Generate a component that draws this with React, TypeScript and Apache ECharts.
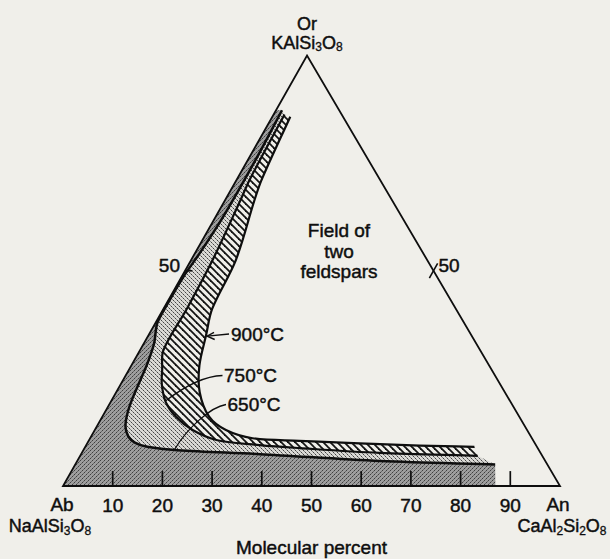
import React, { useEffect, useRef } from 'react';
import * as echarts from 'echarts';

// ---------------- data ----------------
// Corners of the ternary system: Ab (bottom-left), An (bottom-right), Or (apex)
const cornerNames = ['Ab', 'An', 'Or'];
// Formula tokens: [text, isSubscript]
const formulaAb: [string, boolean][] = [['NaAlSi', false], ['3', true], ['O', false], ['8', true]];
const formulaAn: [string, boolean][] = [['CaAl', false], ['2', true], ['Si', false], ['2', true], ['O', false], ['8', true]];
const formulaOr: [string, boolean][] = [['KAlSi', false], ['3', true], ['O', false], ['8', true]];

// Scale marks (mol %)
const baseTicks = [10, 20, 30, 40, 50, 60, 70, 80, 90];
const sideTick = 50;

// Solvus curves, points as [An, Or] in mol % (Ab = 100 - An - Or)
const solvus650: number[][] = [
  [1.2, 87.3], [1.5, 78.5], [1.6, 71.4], [1.5, 62.0], [1.0, 54.5], [0.35, 48.5],
  [0.25, 42.0], [0.35, 38.0], [1.0, 36.0], [2.1, 33.0], [3.0, 28.5], [3.5, 24.5],
  [4.0, 20.3], [4.7, 16.8], [5.8, 13.8], [7.5, 11.5], [9.5, 10.1], [12.5, 9.1],
  [19.0, 8.3], [36.0, 7.4], [61.0, 5.8], [84.5, 5.0],
];
const solvus750: number[][] = [
  [2.2, 86.3], [2.6, 71.4], [3.1, 66.5], [4.3, 52.8], [4.7, 41.2], [4.7, 31.6],
  [6.7, 27.0], [8.3, 23.6], [11.1, 19.5], [14.8, 16.1], [19.7, 13.0], [25.6, 10.7],
  [34.9, 9.5], [43.3, 8.8], [59.9, 7.7], [80.0, 7.0],
];
const solvus900: number[][] = [
  [3.6, 85.8], [5.0, 71.4], [5.9, 66.5], [9.0, 52.5], [9.8, 41.2], [11.6, 35.0],
  [13.7, 28.0], [16.8, 21.8], [21.5, 16.1], [26.4, 13.0], [32.7, 11.1], [42.4, 10.5],
  [54.8, 9.9], [67.1, 9.4], [78.3, 9.1],
];
// An content where the low-temperature one-feldspar field meets the Ab–An join
const oneFeldsparBaseEnd = [87, 0];

const isothermLabels = ['900°C', '750°C', '650°C'];
const fieldLabel = ['Field of', 'two', 'feldspars'];
const axisTitle = 'Molecular percent';

// ---------------- styling / helpers ----------------
const FONT = "'Liberation Sans', Arial, Helvetica, sans-serif";
const INK = '#0e0e0e';
const PAPER = '#f0efea';
const BOLDEN = 0.45; // thin outline so the type matches the heavier print
const SQ = Math.sqrt(3) / 2;
const SHEAR = 0.491; // the printed triangle leans slightly (apex a little left of centre)
const TICK_LEN = 3;
const toXY = (p: number[]) => [p[0] + p[1] * SHEAR, p[1] * SQ];
const rev = (a: number[][]) => [...a].reverse();

type Seg = { pts: number[][]; smooth: boolean };

const norm = (x: number, y: number) => {
  const l = Math.hypot(x, y) || 1;
  return [x / l, y / l];
};

function buildPath(segs: Seg[], close: boolean): string {
  const f = (n: number) => n.toFixed(2);
  let d = '';
  segs.forEach((seg, si) => {
    const p = seg.pts;
    d += (si === 0 ? 'M' : 'L') + f(p[0][0]) + ' ' + f(p[0][1]) + ' ';
    for (let i = 0; i < p.length - 1; i++) {
      const p1 = p[i];
      const p2 = p[i + 1];
      if (!seg.smooth) {
        d += 'L' + f(p2[0]) + ' ' + f(p2[1]) + ' ';
        continue;
      }
      const p0 = i > 0 ? p[i - 1] : p1;
      const p3 = i < p.length - 2 ? p[i + 2] : p2;
      const len = Math.hypot(p2[0] - p1[0], p2[1] - p1[1]);
      const t1 = norm(p2[0] - p0[0], p2[1] - p0[1]);
      const t2 = norm(p3[0] - p1[0], p3[1] - p1[1]);
      const c1 = [p1[0] + (t1[0] * len) / 3, p1[1] + (t1[1] * len) / 3];
      const c2 = [p2[0] - (t2[0] * len) / 3, p2[1] - (t2[1] * len) / 3];
      d += 'C' + f(c1[0]) + ' ' + f(c1[1]) + ' ' + f(c2[0]) + ' ' + f(c2[1]) + ' ' + f(p2[0]) + ' ' + f(p2[1]) + ' ';
    }
  });
  if (close) d += 'Z';
  return d;
}

const shapeSeries = (name: string, segs: Seg[], close: boolean, style: any, z: number) => ({
  type: 'custom',
  name,
  silent: true,
  clip: false,
  z,
  data: segs.flatMap((s) => s.pts.map(toXY)),
  renderItem: (params: any, api: any) => {
    if (params.dataIndex !== 0) return null;
    const px = segs.map((s) => ({ smooth: s.smooth, pts: s.pts.map((p) => api.coord(toXY(p))) }));
    return { type: 'path', shape: { pathData: buildPath(px, close) }, style };
  },
});

function makePattern(size: number, draw: (ctx: CanvasRenderingContext2D) => void) {
  const c = document.createElement('canvas');
  c.width = size;
  c.height = size;
  const ctx = c.getContext('2d') as CanvasRenderingContext2D;
  draw(ctx);
  return { image: c.toDataURL(), repeat: 'repeat', imageWidth: size, imageHeight: size };
}

const formula = (tokens: [string, boolean][]) =>
  tokens.map(([t, sub]) => (sub ? `{s|${t}}` : `{n|${t}}`)).join('');

export default function App() {
  const ref = useRef<HTMLDivElement>(null);

  useEffect(() => {
    const el = ref.current;
    if (!el) return;
    const chart = echarts.init(el, undefined, { renderer: 'svg' });

    const darkFill = makePattern(4, (ctx) => {
      ctx.fillStyle = '#9e9e9e';
      ctx.fillRect(0, 0, 4, 4);
      ctx.fillStyle = '#404040';
      ctx.fillRect(0, 0, 1, 1);
      ctx.fillRect(2, 2, 1, 1);
      ctx.fillStyle = '#6a6a6a';
      ctx.fillRect(3, 1, 1, 1);
      ctx.fillRect(1, 3, 1, 1);
    });
    const lightFill = makePattern(4, (ctx) => {
      ctx.fillStyle = '#dad9d5';
      ctx.fillRect(0, 0, 4, 4);
      ctx.fillStyle = '#454545';
      ctx.fillRect(1, 0, 1, 1);
      ctx.fillRect(3, 2, 1, 1);
      ctx.fillStyle = '#858585';
      ctx.fillRect(0, 3, 1, 1);
      ctx.fillRect(2, 1, 1, 1);
    });
    const hatchFill = makePattern(7, (ctx) => {
      ctx.fillStyle = PAPER;
      ctx.fillRect(0, 0, 7, 7);
      ctx.strokeStyle = '#141414';
      ctx.lineWidth = 1.8;
      for (let k = -1; k <= 1; k++) {
        ctx.beginPath();
        ctx.moveTo(-2, -2 + 7 * k);
        ctx.lineTo(9, 9 + 7 * k);
        ctx.stroke();
      }
    });

    const abCorner = [0, 0];
    const darkSegs: Seg[] = [
      { pts: [abCorner, [0, solvus650[0][1]]], smooth: false },
      { pts: solvus650, smooth: true },
      { pts: [oneFeldsparBaseEnd, abCorner], smooth: false },
    ];
    const lightSegs: Seg[] = [
      { pts: solvus650, smooth: true },
      { pts: rev(solvus750), smooth: true },
    ];
    const hatchSegs: Seg[] = [
      { pts: solvus750, smooth: true },
      { pts: rev(solvus900), smooth: true },
    ];
    const frameSegs: Seg[] = [{ pts: [[0, 0], [100, 0], [0, 100]], smooth: false }];

    const ink = { color: INK, fontFamily: FONT, textBorderColor: INK, textBorderWidth: BOLDEN };
    const richFormula = (lh: number, subLh: number) => ({
      n: { ...ink, fontSize: 18, lineHeight: lh, align: 'center' },
      s: { ...ink, fontSize: 12, lineHeight: subLh, verticalAlign: 'bottom', align: 'center', textBorderWidth: 0.3 },
    });

    const baseLabel = (value: number) => (baseTicks.indexOf(value) >= 0 ? String(value) : '');

    const lineStyle = (w: number) => ({ fill: 'none', stroke: INK, lineWidth: w, lineJoin: 'round', lineCap: 'butt' });
    const labelText = { ...ink, fontSize: 19, opacity: 1 };
    const graphicText = (text: string, x: number, y: number, align: string, extra: any = {}) => ({
      type: 'text',
      z: 10,
      x,
      y,
      style: {
        text,
        fill: INK,
        stroke: INK,
        lineWidth: BOLDEN,
        fontFamily: FONT,
        fontSize: 19,
        align,
        verticalAlign: 'middle',
        textAlign: align,
        textVerticalAlign: 'middle',
        ...extra,
      },
    });

    const option: any = {
      animation: false,
      backgroundColor: PAPER,
      grid: { left: 63, top: 56, width: 497, height: 430, containLabel: false, outerBoundsMode: 'none' },
      xAxis: {
        type: 'value',
        min: 0,
        max: 100,
        interval: 10,
        axisLine: { show: false },
        axisTick: { show: false },
        splitLine: { show: false },
        axisLabel: {
          show: true,
          margin: 9,
          hideOverlap: false,
          formatter: baseLabel,
          ...ink,
          fontSize: 19,
          lineHeight: 20,
        },
        name: axisTitle,
        nameLocation: 'middle',
        nameGap: 51,
        nameMoveOverlap: false,
        nameTextStyle: { ...ink, fontSize: 19, lineHeight: 20 },
      },
      yAxis: { type: 'value', min: 0, max: 430 / 4.97, show: false },
      series: [
        shapeSeries('one feldspar (650 °C)', darkSegs, true, { fill: darkFill, stroke: 'none' }, 1),
        shapeSeries('one feldspar (750 °C)', lightSegs, true, { fill: lightFill, stroke: 'none' }, 1),
        shapeSeries('one feldspar (900 °C)', hatchSegs, true, { fill: hatchFill, stroke: 'none' }, 1),
        shapeSeries('frame', frameSegs, true, { ...lineStyle(1.8), lineJoin: 'miter' }, 3),
        shapeSeries('solvus 650', [{ pts: solvus650, smooth: true }], false, lineStyle(2.5), 3),
        shapeSeries('solvus 750', [{ pts: solvus750, smooth: true }], false, lineStyle(2.2), 3),
        shapeSeries('solvus 900', [{ pts: solvus900, smooth: true }], false, lineStyle(2.2), 3),
        {
          type: 'custom',
          name: 'base ticks',
          silent: true,
          z: 3,
          data: baseTicks.map((v) => [v, 0]),
          renderItem: (params: any, api: any) => {
            const a = api.coord([api.value(0), 0]);
            const b = api.coord([api.value(0), TICK_LEN]);
            return { type: 'line', shape: { x1: a[0], y1: a[1], x2: b[0], y2: b[1] }, style: { stroke: INK, lineWidth: 1.7 } };
          },
        },
        {
          type: 'custom',
          name: 'side ticks',
          silent: true,
          z: 3,
          data: [toXY([0, sideTick]), toXY([sideTick, sideTick])],
          renderItem: (params: any, api: any) => {
            const ends =
              params.dataIndex === 0
                ? [[0, sideTick], [1.5, sideTick]]
                : [[sideTick, sideTick - 1.7], [sideTick, sideTick + 1.7]];
            const a = api.coord(toXY(ends[0]));
            const b = api.coord(toXY(ends[1]));
            return { type: 'line', shape: { x1: a[0], y1: a[1], x2: b[0], y2: b[1] }, style: { stroke: INK, lineWidth: 1.6 } };
          },
        },
        {
          type: 'scatter',
          name: 'labels',
          silent: true,
          clip: false,
          z: 4,
          symbolSize: 0,
          itemStyle: { color: INK, opacity: 1 },
          label: { show: true, ...labelText },
          emphasis: { disabled: true },
          data: [
            {
              value: toXY([0, 100]),
              label: {
                ...labelText,
                position: 'top',
                distance: 3,
                formatter: `{n|${cornerNames[2]}}\n${formula(formulaOr)}`,
                rich: richFormula(19, 9),
              },
            },
            { value: toXY([0, 0]), label: { ...labelText, position: 'bottom', distance: 8, offset: [-1, 0], formatter: cornerNames[0], lineHeight: 20 } },
            { value: toXY([100, 0]), label: { ...labelText, position: 'bottom', distance: 8, offset: [-2, 0], formatter: cornerNames[1], lineHeight: 20 } },
            {
              value: toXY([0, 0]),
              label: { ...labelText, position: 'bottom', distance: 29, offset: [-13, 0], formatter: formula(formulaAb), rich: richFormula(22, 11) },
            },
            {
              value: toXY([100, 0]),
              label: { ...labelText, position: 'bottom', distance: 29, offset: [2, 0], formatter: formula(formulaAn), rich: richFormula(22, 11) },
            },
            { value: toXY([0, sideTick]), label: { ...labelText, position: 'left', distance: 5, offset: [0, -5], formatter: String(sideTick) } },
            { value: toXY([sideTick, sideTick]), label: { ...labelText, position: 'right', distance: 5, offset: [0, -5], formatter: String(sideTick) } },
          ],
        },
      ],
      graphic: [
        graphicText(fieldLabel.join('\n'), 339, 251, 'center', { lineHeight: 20.5 }),
        graphicText(isothermLabels[0], 231, 334, 'left'),
        graphicText(isothermLabels[1], 224, 375.5, 'left'),
        graphicText(isothermLabels[2], 227.5, 404.5, 'left'),
        {
          type: 'polyline',
          z: 10,
          shape: { points: [[229, 334], [207.5, 336.2]] },
          style: { stroke: INK, lineWidth: 1.3, fill: 'none' },
        },
        {
          type: 'polyline',
          z: 10,
          shape: { points: [[214, 332.3], [207.1, 336.2], [214.7, 339.5]] },
          style: { stroke: INK, lineWidth: 1.4, fill: 'none' },
        },
        {
          type: 'bezierCurve',
          z: 10,
          shape: { x1: 222.5, y1: 375.5, cpx1: 206, cpy1: 376, cpx2: 185, cpy2: 386, x2: 165.5, y2: 401 },
          style: { stroke: INK, lineWidth: 1.3, fill: 'none' },
        },
        {
          type: 'bezierCurve',
          z: 10,
          shape: { x1: 226, y1: 404.5, cpx1: 210.5, cpy1: 407, cpx2: 187.5, cpy2: 428, x2: 174.5, y2: 449.5 },
          style: { stroke: INK, lineWidth: 1.3, fill: 'none' },
        },
      ],
    };

    chart.setOption(option);
    return () => {
      chart.dispose();
    };
  }, []);

  return (
    <div
      ref={ref}
      style={{ position: 'fixed', left: 0, top: 0, width: 610, height: 559, background: PAPER }}
    />
  );
}
